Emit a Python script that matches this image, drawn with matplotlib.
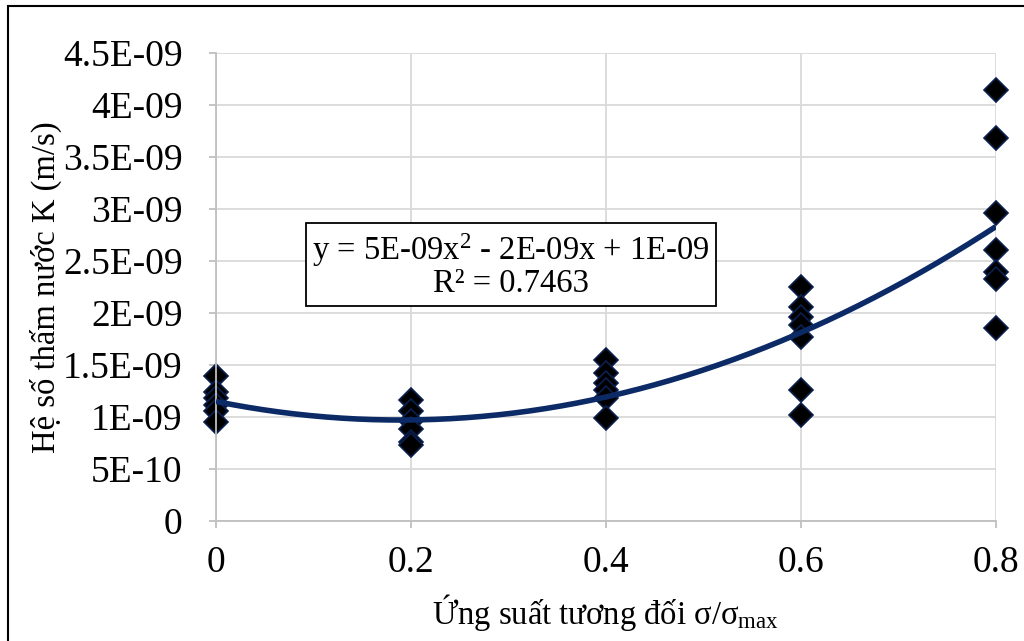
import numpy as np
import matplotlib.pyplot as plt
from matplotlib.patches import Rectangle

# ứng suất tương đối và hệ số thấm đo được (đơn vị 1E-09 m/s)
stress = [0.0, 0.2, 0.4, 0.6, 0.8]
k_00 = [1.39, 1.24, 1.18, 1.12, 1.06, 0.95]
k_02 = [1.16, 1.06, 0.96, 0.88, 0.76, 0.73]
k_04 = [1.55, 1.42, 1.33, 1.26, 1.18, 0.99]
k_06 = [2.25, 2.06, 1.96, 1.88, 1.77, 1.26, 1.02]
k_08 = [4.14, 3.68, 2.96, 2.61, 2.39, 2.33, 1.86]

y_ticks = [0, 0.5, 1, 1.5, 2, 2.5, 3, 3.5, 4, 4.5]
y_tick_labels = ['0', '5E-10', '1E-09', '1.5E-09', '2E-09', '2.5E-09',
                 '3E-09', '3.5E-09', '4E-09', '4.5E-09']
x_tick_labels = ['0', '0.2', '0.4', '0.6', '0.8']
eq_text = 'y = 5E-09x$^2$ - 2E-09x + 1E-09\nR² = 0.7463'

plt.rcParams['font.family'] = ['Liberation Serif', 'DejaVu Serif']
plt.rcParams['mathtext.fontset'] = 'custom'
plt.rcParams['mathtext.rm'] = 'Liberation Serif'
plt.rcParams['mathtext.it'] = 'Liberation Serif:italic'

groups = [k_00, k_02, k_04, k_06, k_08]
xs = np.concatenate([[s] * len(g) for s, g in zip(stress, groups)])
ys = np.concatenate(groups) * 1e-9

fig = plt.figure(figsize=(10.24, 6.41), dpi=100)
ax = fig.add_axes([216 / 1024, 1 - 521 / 641, 780 / 1024, 468 / 641])

# đường xu hướng bậc 2
coef = np.polyfit(xs, ys, 2)
xx = np.linspace(0, 0.8, 200)
ax.plot(xx, np.polyval(coef, xx), color='#0c2a66', lw=4, zorder=3,
        solid_capstyle='butt')

ax.plot(xs, ys, 'D', ms=12, mfc='black', mec='#0a2050', mew=1.2,
        zorder=2, clip_on=False, ls='none')

ax.set_xlim(0, 0.8)
ax.set_ylim(0, 4.5e-9)
ax.set_xticks(stress)
ax.set_xticklabels(x_tick_labels)
ax.set_yticks([v * 1e-9 for v in y_ticks])
ax.set_yticklabels(y_tick_labels)
ax.grid(True, color='#d9d9d9', lw=1.3, zorder=0)
ax.set_axisbelow(True)
for side in ['top', 'right']:
    ax.spines[side].set_visible(False)
for side in ['left', 'bottom']:
    ax.spines[side].set_color('#bfbfbf')
    ax.spines[side].set_linewidth(1.3)
ax.tick_params(axis='both', colors='#bfbfbf', labelcolor='black',
               labelsize=27, length=5, width=1.3)
ax.tick_params(axis='y', pad=19)
ax.tick_params(axis='x', pad=13)

ax.set_ylabel('Hệ số thấm nước K (m/s)', fontsize=23.5, va='center')
ax.yaxis.set_label_coords(-0.218, 0.5)
ax.set_xlabel('Ứng suất tương đối σ/σ$_{\\mathrm{max}}$', fontsize=23.5,
              va='center')
ax.xaxis.set_label_coords(0.5, -0.196)

ax.text(0.3026, 2.46e-9, eq_text, fontsize=23.5, ha='center', va='center',
        linespacing=1.0, zorder=4,
        bbox=dict(boxstyle='square,pad=0.2', fc='white', ec='black', lw=1.3))

# khung viền biểu đồ
fig.patches.append(Rectangle((8 / 1024, -0.1), 1.2, 1.1 - 6 / 641,
                             transform=fig.transFigure, fill=False,
                             ec='black', lw=1.5))

fig.savefig('out.png', dpi=100)
